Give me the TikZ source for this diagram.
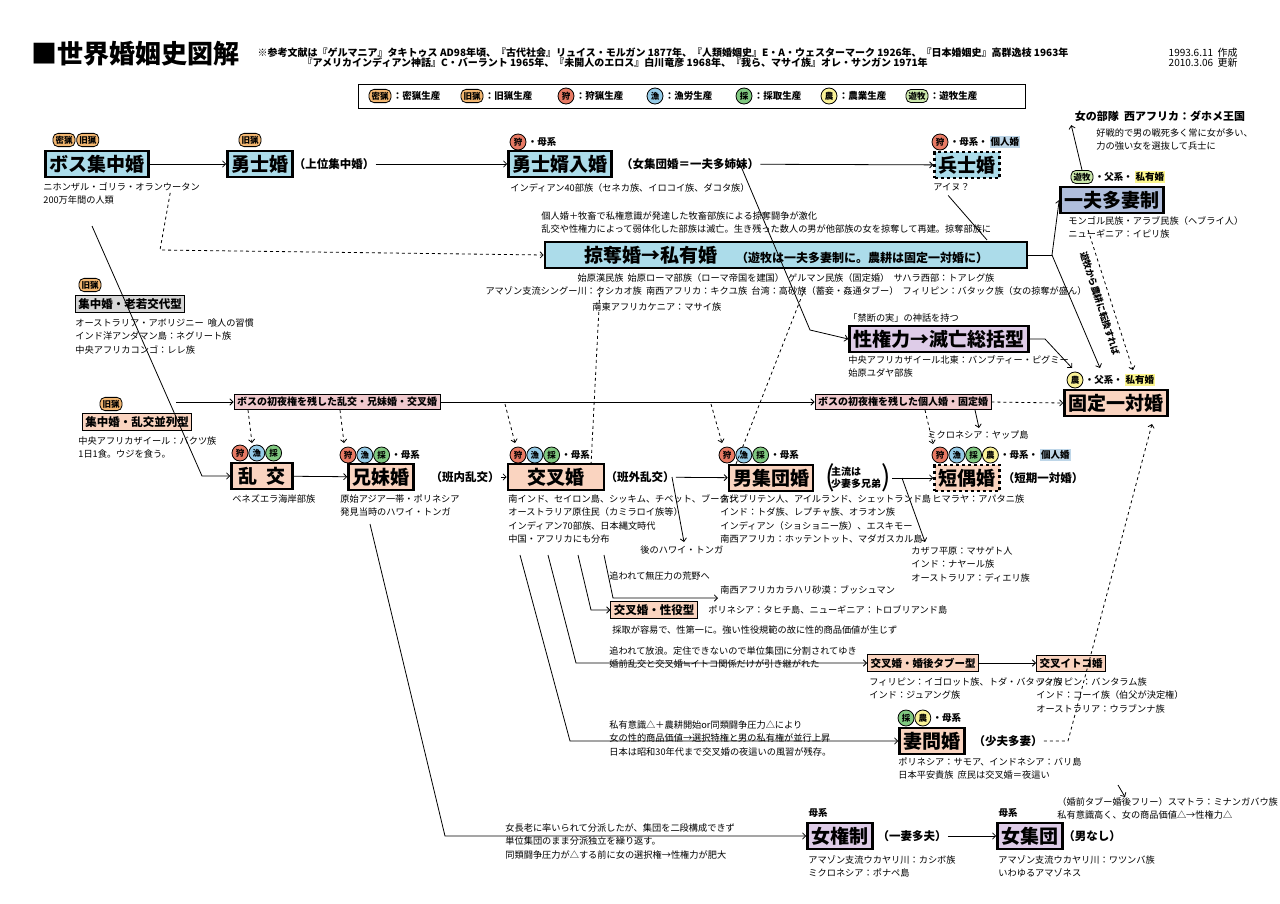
\documentclass[tikz,border=0pt]{standalone}
\usepackage{fontspec}
\setmainfont{Noto Sans CJK JP}
\newfontfamily\symfont{DejaVu Sans}
\usetikzlibrary{arrows,positioning}
\newcommand\tsz[1]{\fontsize{#1}{#1}\selectfont}
\definecolor{boxblue}{RGB}{172,220,234}
\definecolor{boxsalmon}{RGB}{250,212,192}
\definecolor{boxpurple}{RGB}{222,204,232}
\definecolor{boxgrey}{RGB}{214,214,214}
\definecolor{boxnavy}{RGB}{176,190,220}
\definecolor{boxpink}{RGB}{240,202,206}
\definecolor{cmitsu}{RGB}{242,182,112}
\definecolor{ckari}{RGB}{232,122,100}
\definecolor{cgyo}{RGB}{150,204,232}
\definecolor{csai}{RGB}{128,200,128}
\definecolor{cnou}{RGB}{250,242,150}
\definecolor{cyuu}{RGB}{204,232,172}
\definecolor{hlblue}{RGB}{190,214,232}
\definecolor{hlyel}{RGB}{252,246,140}
\begin{document}
\begin{tikzpicture}[x=1pt,y=-1pt,>=angle 90,line width=0.8pt]
  \tikzstyle{big}=[draw,line width=2.6pt,font=\tsz{19}\bfseries,inner sep=4pt]
  \tikzstyle{sub}=[draw,line width=0.9pt,font=\tsz{11.5}\bfseries,inner sep=3pt]
  \tikzstyle{note}=[anchor=north west,inner sep=0pt,align=left,font=\fontsize{9.2}{13.5}\selectfont]
  \tikzstyle{lbl}=[inner sep=1pt,font=\tsz{11.5}\bfseries]
  \tikzstyle{ring}=[circle,draw,inner sep=0pt,minimum size=16pt,font=\tsz{8.5}\bfseries]
  \tikzstyle{pill}=[rounded corners=5pt,draw,inner sep=2.5pt,font=\tsz{8.5}\bfseries]
  \tikzstyle{tag}=[inner sep=1pt,font=\tsz{9.5}\bfseries]
  \useasboundingbox (0,0) rectangle (1280,903);

  % header
  \node[anchor=west,font=\tsz{26}\bfseries] (title) at (28,54) {■世界婚姻史図解};
  \node[anchor=west,font=\tsz{10}\bfseries,align=left] (refs) at (254,58)
    {※参考文献は『ゲルマニア』タキトゥス AD98年頃、『古代社会』リュイス・モルガン 1877年、『人類婚姻史』E・A・ウェスターマーク 1926年、『日本婚姻史』高群逸枝 1963年\\
     \hspace{45pt}『アメリカインディアン神話』C・バーラント 1965年、『未開人のエロス』白川竜彦 1968年、『我ら、マサイ族』オレ・サンガン 1971年};
  \node[anchor=west,font=\tsz{10},align=left] (date) at (1165,58) {1993.6.11\ \ 作成\\2010.3.06\ \ 更新};

  % legend
  \draw[line width=1pt] (358,84) rectangle (1025,108);
  \node[pill,fill=cmitsu] (l1) at (380,96) {密猟};
  \node[tag,right=0pt of l1] {：密猟生産};
  \node[pill,fill=cmitsu] (l2) at (472,96) {旧猟};
  \node[tag,right=0pt of l2] {：旧猟生産};
  \node[ring,fill=ckari] (l3) at (566,96) {狩};
  \node[tag,right=0pt of l3] {：狩猟生産};
  \node[ring,fill=cgyo] (l4) at (655,96) {漁};
  \node[tag,right=0pt of l4] {：漁労生産};
  \node[ring,fill=csai] (l5) at (744,96) {採};
  \node[tag,right=0pt of l5] {：採取生産};
  \node[ring,fill=cnou] (l6) at (829,96) {農};
  \node[tag,right=0pt of l6] {：農業生産};
  \node[pill,fill=cyuu] (l7) at (917,96) {遊牧};
  \node[tag,right=0pt of l7] {：遊牧生産};

  % top row
  \node[big,fill=boxblue] (bos) at (97,164) {ボス集中婚};
  \node[pill,fill=cmitsu] (bosa) at (64,140) {密猟};
  \node[pill,fill=cmitsu,right=1pt of bosa] {旧猟};
  \node[note] (bosn) at (43,182) {ニホンザル・ゴリラ・オランウータン\\200万年間の人類};

  \node[big,fill=boxblue] (yushi) at (260,164) {勇士婚};
  \node[pill,fill=cmitsu] at (250,140) {旧猟};
  \node[lbl] (yushil) at (334,164) {（上位集中婚）};

  \node[big,fill=boxblue] (mukoiri) at (560,164) {勇士婿入婚};
  \node[ring,fill=ckari] (mka) at (518,142) {狩};
  \node[tag,right=0pt of mka] {・母系};
  \node[lbl] (mukoiril) at (690,164) {（女集団婚＝一夫多姉妹）};
  \node[note] at (510,183) {インディアン40部族（セネカ族、イロコイ族、ダコタ族）};

  \node[big,dashed,fill=boxblue] (heishi) at (967,165) {兵士婚};
  \node[ring,fill=ckari] (hka) at (940,142) {狩};
  \node[tag,right=0pt of hka] (hkb) {・母系・};
  \node[tag,fill=hlblue,right=0pt of hkb] {個人婚};
  \node[note] (heishin) at (933,183) {アイヌ？};

  \node[font=\tsz{11}\bfseries] (butai) at (1160,116) {女の部隊\ \ 西アフリカ：ダホメ王国};
  \node[note] at (1096,128) {好戦的で男の戦死多く常に女が多い、\\力の強い女を選抜して兵士に};

  \node[big,fill=boxnavy] (ippu) at (1112,200) {一夫多妻制};
  \node[pill,fill=cyuu] (ipa) at (1082,177) {遊牧};
  \node[tag,right=0pt of ipa] (ipb) {・父系・};
  \node[tag,fill=hlyel,right=0pt of ipb] {私有婚};
  \node[note] (ippun) at (1068,216) {モンゴル民族・アラブ民族（ヘブライ人）\\ニューギニア：イピリ族};

  % ryakudatsu
  \node[note] at (541,211) {個人婚＋牧畜で私権意識が発達した牧畜部族による掠奪闘争が激化\\乱交や性権力によって弱体化した部族は滅亡。生き残った数人の男が他部族の女を掠奪して再建。掠奪部族に};
  \node[big,fill=boxblue,minimum width=482pt] (ryaku) at (786,255) {掠奪婚→私有婚\quad{\tsz{12}（遊牧は一夫多妻制に。農耕は固定一対婚に）}};
  \node[note,anchor=north,align=center] (ryakun) at (786,273)
    {始原漢民族\ \ 始原ローマ部族（ローマ帝国を建国）\ \ ゲルマン民族（固定婚）\ \ サハラ西部：トアレグ族\\
     アマゾン支流シングー川：クシカオ族\ \ 南西アフリカ：キクユ族\ \ 台湾：高砂族（蓄妾・姦通タブー）\ \ フィリピン：バタック族（女の掠奪が盛ん）};
  \node[note] at (592,302) {南東アフリカケニア：マサイ族};

  \node[note] at (848,313) {「禁断の実」の神話を持つ};
  \node[big,fill=boxpurple] (seiken) at (939,339) {性権力→滅亡総括型};
  \node[note] at (848,355) {中央アフリカザイール北東：バンブティー・ピグミー\\始原ユダヤ部族};

  \node[big,fill=boxsalmon] (kotei) at (1116,403) {固定一対婚};
  \node[ring,fill=cnou] (kta) at (1075,380) {農};
  \node[tag,right=0pt of kta] (ktb) {・父系・};
  \node[tag,fill=hlyel,right=0pt of ktb] {私有婚};

  % left side
  \node[pill,fill=cmitsu] at (90,285) {旧猟};
  \node[sub,fill=boxgrey] (roujaku) at (130,304) {集中婚・老若交代型};
  \node[note] at (75,318) {オーストラリア・アボリジニー\ \ 喰人の習慣\\インド洋アンダマン島：ネグリート族\\中央アフリカコンゴ：レレ族};

  \node[pill,fill=cmitsu] (heia) at (111,404) {旧猟};
  \node[sub,fill=boxsalmon] (heiretsu) at (137,422) {集中婚・乱交並列型};
  \node[note] at (78,436) {中央アフリカザイール：バクツ族\\1日1食。ウジを食う。};

  \node[sub,fill=boxpink,font=\tsz{10}\bfseries] (shoya1) at (337,402) {ボスの初夜権を残した乱交・兄妹婚・交叉婚};
  \node[sub,fill=boxpink,font=\tsz{10}\bfseries] (shoya2) at (903,402) {ボスの初夜権を残した個人婚・固定婚};

  % middle row
  \node[big,fill=boxsalmon,minimum width=61pt] (rankou) at (262,476) {乱\ \ 交};
  \node[ring,fill=ckari] (ra1) at (240,453) {狩};
  \node[ring,fill=cgyo,right=0pt of ra1] (ra2) {漁};
  \node[ring,fill=csai,right=0pt of ra2] {採};
  \node[note] at (232,494) {ベネズエラ海岸部族};

  \node[big,fill=boxsalmon] (kyoudai) at (381,477) {兄妹婚};
  \node[ring,fill=ckari] (ky1) at (348,455) {狩};
  \node[ring,fill=cgyo,right=0pt of ky1] (ky2) {漁};
  \node[ring,fill=csai,right=0pt of ky2] (ky3) {採};
  \node[tag,right=0pt of ky3] {・母系};
  \node[lbl] (kyoudail) at (465,477) {（班内乱交）};
  \node[note] (kyoudain) at (340,494) {原始アジア一帯・ポリネシア\\発見当時のハワイ・トンガ};

  \node[big,fill=boxsalmon,minimum width=96pt] (kousa) at (556,477) {交叉婚};
  \node[ring,fill=ckari] (ks1) at (518,455) {狩};
  \node[ring,fill=cgyo,right=0pt of ks1] (ks2) {漁};
  \node[ring,fill=csai,right=0pt of ks2] (ks3) {採};
  \node[tag,right=0pt of ks3] {・母系};
  \node[lbl] (kousal) at (640,477) {（班外乱交）};
  \node[note] (kousan) at (508,494) {南インド、セイロン島、シッキム、チベット、ブータン\\オーストラリア原住民（カミラロイ族等）\\インディアン70部族、日本縄文時代\\中国・アフリカにも分布};

  \node[big,fill=boxsalmon] (otoko) at (771,478) {男集団婚};
  \node[ring,fill=ckari] (ot1) at (727,455) {狩};
  \node[ring,fill=cgyo,right=0pt of ot1] (ot2) {漁};
  \node[ring,fill=csai,right=0pt of ot2] (ot3) {採};
  \node[tag,right=0pt of ot3] {・母系};
  \node[lbl,align=left,font=\fontsize{10}{12}\selectfont\bfseries] (otokol) at (856,478) {主流は\\少妻多兄弟};
  \node[font=\tsz{28},inner sep=0pt] at (830,478) {(};
  \node[font=\tsz{28},inner sep=0pt] at (886,478) {)};
  \node[note] at (720,494) {古代ブリテン人、アイルランド、シェットランド島\\インド：トダ族、レプチャ族、オラオン族\\インディアン（ショショニー族）、エスキモー\\南西アフリカ：ホッテントット、マダガスカル島};

  \node[big,dashed,fill=boxsalmon] (tanguu) at (967,478) {短偶婚};
  \node[ring,fill=ckari] (tg1) at (940,455) {狩};
  \node[ring,fill=cgyo,right=0pt of tg1] (tg2) {漁};
  \node[ring,fill=csai,right=0pt of tg2] (tg3) {採};
  \node[ring,fill=cnou,right=0pt of tg3] (tg4) {農};
  \node[tag,right=0pt of tg4] (tg5) {・母系・};
  \node[tag,fill=hlblue,right=0pt of tg5] {個人婚};
  \node[lbl] (tanguul) at (1043,478) {（短期一対婚）};
  \node[note] at (932,494) {ヒマラヤ：アパタニ族};
  \node[note] (yap) at (927,430) {ミクロネシア：ヤップ島};

  \node[note] (hawaii) at (640,545) {後のハワイ・トンガ};
  \node[note] (kazafu) at (911,546) {カザフ平原：マサゲト人\\インド：ナヤール族\\オーストラリア：ディエリ族};

  % lower part
  \node[note] at (609,571) {追われて無圧力の荒野へ};
  \node[note,anchor=west] (bushman) at (720,590) {南西アフリカカラハリ砂漠：ブッシュマン};
  \node[sub,fill=boxsalmon] (seiyaku) at (654,610) {交叉婚・性役型};
  \node[note,anchor=west] at (708,610) {ポリネシア：タヒチ島、ニューギニア：トロブリアンド島};
  \node[note] at (612,625) {採取が容易で、性第一に。強い性役規範の故に性的商品価値が生じず};

  \node[note] at (609,646) {追われて放浪。定住できないので単位集団に分割されてゆき\\婚前乱交と交叉婚{\symfont ≒}イトコ関係だけが引き継がれた};
  \node[sub,fill=boxsalmon,font=\tsz{10.5}\bfseries] (tabu) at (923,663) {交叉婚・婚後タブー型};
  \node[note] at (869,677) {フィリピン：イゴロット族、トダ・バタック族\\インド：ジュアング族};
  \node[sub,fill=boxsalmon,font=\tsz{10.5}\bfseries] (itoko) at (1071,663) {交叉イトコ婚};
  \node[note] at (1036,677) {フィリピン：バンタラム族\\インド：コーイ族（伯父が決定権）\\オーストラリア：ウラブンナ族};

  \node[note] at (609,720) {私有意識△＋農耕開始or同類闘争圧力△により\\女の性的商品価値→選択特権と男の私有権が並行上昇\\日本は昭和30年代まで交叉婚の夜這いの風習が残存。};
  \node[big,fill=boxsalmon] (tsuma) at (932,741) {妻問婚};
  \node[ring,fill=csai] (ts1) at (906,718) {採};
  \node[ring,fill=cnou,right=0pt of ts1] (ts2) {農};
  \node[tag,right=0pt of ts2] {・母系};
  \node[lbl] (tsumal) at (1008,741) {（少夫多妻）};
  \node[note] (tsuman) at (898,757) {ポリネシア：サモア、インドネシア：バリ島\\日本平安貴族\ \ 庶民は交叉婚＝夜這い};
  \node[note] (minan) at (1057,797) {（婚前タブー婚後フリー）スマトラ：ミナンガバウ族\\私有意識高く、女の商品価値△→性権力△};

  \node[note] at (505,823) {女長老に率いられて分派したが、集団を二段構成できず\\単位集団のまま分派独立を繰り返す。\\同類闘争圧力が△する前に女の選択権→性権力が肥大};
  \node[big,fill=boxpurple] (jokensei) at (840,836) {女権制};
  \node[tag] at (818,813) {母系};
  \node[lbl] (jokenseil) at (912,836) {（一妻多夫）};
  \node[note] at (808,855) {アマゾン支流ウカヤリ川：カシボ族\\ミクロネシア：ポナペ島};
  \node[big,fill=boxpurple] (joshudan) at (1030,836) {女集団};
  \node[tag] at (1008,813) {母系};
  \node[lbl] (joshudanl) at (1092,836) {（男なし）};
  \node[note] at (998,855) {アマゾン支流ウカヤリ川：ワツンバ族\\いわゆるアマゾネス};

  % top connectors
  \draw[->] (bos) -- (yushi);
  \draw[->] (yushil) -- (mukoiri);
  \draw[->] (mukoiril) -- (heishi);
  \draw[->] (740,164) -- (810,330) -- (seiken.west);
  \draw (heishin.south east) ++(-22,4) -- (987,240);
  \draw (ryaku.east) -- (1052,255);
  \draw[->] (1052,255) -- (ippu.west);
  \draw[->] (1052,255) -- (1100,368);
  \draw[->] (seiken.east) -- (1045,339) -- (1072,368);
  \draw[->] (ipa.north) -- (butai.south west);
  \draw[dashed,->] (1088,230) -- (1133,370)
    node[pos=0.5,sloped,font=\tsz{9}\bfseries,below=3pt] {遊牧から農耕に転換すれば};
  \draw[dashed,->] (bosn.south east) ++(-30,-12) -- (160,250) -- (ryaku.west);
  \draw[->] (92,226) -- (202,476) -- (rankou.west);

  % middle connectors
  \draw[->] (176,402) -- (shoya1.west);
  \draw[->] (shoya1.east) -- (shoya2.west);
  \draw[dashed,->] (shoya2.east) -- (kotei.west);
  \draw[dashed,->] (248,410) -- (252,443);
  \draw[dashed,->] (340,410) -- (344,443);
  \draw[dashed,->] (505,404) -- (515,443);
  \draw[dashed,->] (711,404) -- (722,443);
  \draw[dashed,->] (925,410) -- (933,444);
  \draw[->] (975,410) -- (979,428);
  \draw[dashed] (600,288) -- (591,465);
  \draw[dashed] (805,288) -- (736,464);
  \draw[->] (rankou) -- (kyoudai);
  \draw[->] (kyoudail) -- (kousa);
  \draw[->] (kousal) -- (otoko);
  \draw[->] (892,478) -- (tanguu);
  \draw[->] (672,477) -- (684,542);
  \draw[->] (902,478) -- (925,542);
  \draw[dashed,->] (tsumal.east) -- (1068,741) -- (1152,424);

  % lower connectors
  \draw[->] (604,555) -- (613,598) -- (718,598);
  \draw[->] (578,555) -- (591,610) -- (seiyaku.west);
  \draw[->] (548,555) -- (576,663) -- (tabu.west);
  \draw[->] (520,555) -- (570,741) -- (tsuma.west);
  \draw[->] (tabu) -- (itoko);
  \draw[->] (1118,785) -- (1125,797);
  \draw[->] (370,524) -- (445,836) -- (jokensei.west);
  \draw[->] (jokenseil) -- (joshudan);
\end{tikzpicture}
\end{document}
